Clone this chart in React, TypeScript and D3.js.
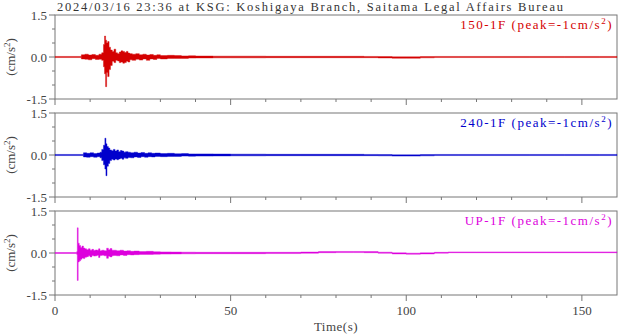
import React from "react";
import * as d3 from "d3";

const title = "2024/03/16 23:36 at KSG: Koshigaya Branch, Saitama Legal Affairs Bureau";
const xTicksMajor = [0, 50, 100, 150];
const xTicksMinor = [10, 20, 30, 40, 60, 70, 80, 90, 110, 120, 130, 140];
const yTicksMajor = [-1.5, 0, 1.5];
const yTicksMinor = [-1.0, -0.5, 0.5, 1.0];

// Panel 1: 150-1F (envelope of the trace, cm/s^2)
const redT = [0, 7.5, 8.5, 9.5, 10.5, 11.5, 12.5, 13.3, 13.8, 14.1, 14.4, 14.7, 15.0, 15.4, 15.8, 16.3, 16.8, 17.3, 17.8, 18.3, 18.8, 19.3, 19.8, 20.3, 20.8, 21.3, 22, 23, 24, 25, 26, 27, 28, 29, 30, 32, 34, 36, 38, 40, 45, 50, 60, 70, 80, 88, 92, 96, 100, 104, 108, 115, 125, 135, 145, 155, 160];
const redHi = [0.02, 0.08, 0.10, 0.07, 0.09, 0.06, 0.10, 0.15, 0.45, 0.75, 0.6, 0.5, 0.55, 0.35, 0.25, 0.2, 0.28, 0.15, 0.12, 0.18, 0.22, 0.2, 0.16, 0.2, 0.14, 0.12, 0.1, 0.12, 0.08, 0.1, 0.07, 0.09, 0.06, 0.08, 0.05, 0.06, 0.05, 0.04, 0.045, 0.035, 0.03, 0.03, 0.025, 0.025, 0.025, 0.02, 0.015, 0.005, 0.005, 0.015, 0.02, 0.02, 0.02, 0.02, 0.02, 0.02, 0.02];
const redLo = [-0.02, -0.07, -0.08, -0.10, -0.06, -0.09, -0.08, -0.12, -0.35, -0.6, -1.06, -0.55, -0.7, -0.45, -0.3, -0.15, -0.2, -0.12, -0.14, -0.2, -0.18, -0.22, -0.2, -0.15, -0.18, -0.1, -0.12, -0.08, -0.11, -0.07, -0.12, -0.07, -0.09, -0.05, -0.07, -0.05, -0.05, -0.05, -0.04, -0.035, -0.03, -0.03, -0.025, -0.025, -0.025, -0.025, -0.035, -0.045, -0.045, -0.03, -0.02, -0.02, -0.02, -0.02, -0.02, -0.02, -0.02];

// Panel 2: 240-1F
const blueT = [0, 8.1, 9, 10, 11, 12, 12.8, 13.3, 13.8, 14.2, 14.5, 14.8, 15.2, 15.6, 16.1, 16.6, 17.1, 17.6, 18.1, 18.6, 19.1, 19.6, 20.1, 20.8, 21.5, 22.5, 23.5, 24.5, 25.5, 26.5, 27.5, 28.5, 30, 32, 34, 36, 38, 40, 45, 50, 60, 70, 80, 88, 92, 96, 100, 104, 108, 115, 125, 135, 145, 155, 160];
const blueHi = [0.02, 0.08, 0.06, 0.08, 0.05, 0.07, 0.1, 0.2, 0.35, 0.6, 0.4, 0.3, 0.25, 0.18, 0.15, 0.2, 0.14, 0.18, 0.12, 0.16, 0.14, 0.1, 0.12, 0.1, 0.08, 0.1, 0.07, 0.09, 0.06, 0.08, 0.06, 0.07, 0.05, 0.06, 0.045, 0.05, 0.04, 0.04, 0.035, 0.03, 0.025, 0.025, 0.025, 0.02, 0.015, 0.005, 0.005, 0.015, 0.02, 0.02, 0.02, 0.02, 0.02, 0.02, 0.02];
const blueLo = [-0.02, -0.07, -0.08, -0.06, -0.08, -0.06, -0.1, -0.2, -0.35, -0.5, -0.74, -0.4, -0.3, -0.2, -0.15, -0.18, -0.14, -0.17, -0.14, -0.12, -0.15, -0.1, -0.12, -0.09, -0.1, -0.07, -0.09, -0.06, -0.08, -0.06, -0.07, -0.05, -0.06, -0.05, -0.05, -0.04, -0.045, -0.04, -0.035, -0.03, -0.025, -0.025, -0.025, -0.025, -0.03, -0.04, -0.04, -0.03, -0.02, -0.02, -0.02, -0.02, -0.02, -0.02, -0.02];

// Panel 3: UP-1F
const magT = [0, 6.2, 6.35, 6.6, 6.9, 7.3, 7.7, 8.1, 8.5, 9, 9.5, 10, 10.5, 11, 11.5, 12, 12.4, 12.8, 13.3, 14, 14.7, 15.2, 15.7, 16.2, 16.6, 17.5, 18.5, 19.5, 20.5, 21.5, 22.5, 24, 26, 28, 30, 33, 36, 40, 45, 50, 60, 70, 75, 80, 85, 88, 92, 96, 100, 104, 108, 112, 120, 130, 140, 150, 160];
const magHi = [0.015, 0.05, 0.9, 0.35, 0.27, 0.2, 0.25, 0.18, 0.15, 0.12, 0.15, 0.1, 0.13, 0.09, 0.11, 0.1, 0.15, 0.08, 0.1, 0.08, 0.17, 0.12, 0.16, 0.1, 0.1, 0.08, 0.1, 0.07, 0.08, 0.06, 0.07, 0.05, 0.06, 0.045, 0.04, 0.035, 0.03, 0.025, 0.025, 0.025, 0.025, 0.035, 0.05, 0.055, 0.055, 0.05, 0.03, 0.005, -0.005, 0.005, 0.025, 0.04, 0.04, 0.04, 0.04, 0.04, 0.04];
const magLo = [-0.015, -0.05, -0.98, -0.32, -0.28, -0.22, -0.18, -0.2, -0.15, -0.13, -0.1, -0.14, -0.09, -0.11, -0.1, -0.08, -0.16, -0.09, -0.08, -0.1, -0.19, -0.12, -0.14, -0.1, -0.09, -0.1, -0.07, -0.09, -0.06, -0.07, -0.06, -0.05, -0.05, -0.045, -0.04, -0.035, -0.03, -0.025, -0.025, -0.025, -0.02, -0.01, 0.01, 0.015, 0.015, 0.01, -0.01, -0.035, -0.045, -0.035, -0.005, 0.01, 0.01, 0.01, 0.01, 0.01, 0.01];

const panels = [
  { name: "150-1F", t: redT, hi: redHi, lo: redLo, color: "#d40000" },
  { name: "240-1F", t: blueT, hi: blueHi, lo: blueLo, color: "#0000cc" },
  { name: "UP-1F", t: magT, hi: magHi, lo: magLo, color: "#dd00dd" },
];

const W = 618;
const H = 334;
const left = 55;
const right = 617;
const panelTop0 = 15;
const panelH = 84;
const panelGap = 98;
const font = "'Liberation Serif', 'DejaVu Serif', serif";
const axisColor = "#777";
const textColor = "#444";

export default function App() {
  const x = d3.scaleLinear().domain([0, 160]).range([left, right]);
  return (
    <svg width={W} height={H} style={{ position: "absolute", left: 0, top: 0, background: "#fff" }} fontFamily={font}>
      <text x={57} y={10.5} fontSize={12.5} fill="#333" textLength={506} lengthAdjust="spacing">{title}</text>
      {panels.map((p, i) => {
        const top = panelTop0 + i * panelGap;
        const y = d3.scaleLinear().domain([-1.5, 1.5]).range([top + panelH, top]);
        const n = Math.min(p.t.length, p.hi.length, p.lo.length);
        const pts = d3.range(n).map((k) => ({ t: p.t[k], hi: p.hi[k], lo: p.lo[k] }));
        const area = d3
          .area<{ t: number; hi: number; lo: number }>()
          .x((d) => x(d.t))
          .y0((d) => y(d.lo))
          .y1((d) => y(d.hi))
          .curve(d3.curveStepAfter);
        return (
          <g key={p.name}>
            <rect x={left} y={top} width={right - left} height={panelH} fill="none" stroke={axisColor} strokeWidth={1} />
            <path d={area(pts) || ""} fill={p.color} stroke={p.color} strokeWidth={0.4} />
            {yTicksMajor.map((v) => (
              <g key={"ym" + v}>
                <line x1={left - 6} x2={left} y1={y(v)} y2={y(v)} stroke={axisColor} />
                <text x={left - 8} y={y(v) + 4.5} fontSize={13} fill={textColor} textAnchor="end">{v.toFixed(1)}</text>
              </g>
            ))}
            {yTicksMinor.map((v) => (
              <line key={"yn" + v} x1={left - 3} x2={left} y1={y(v)} y2={y(v)} stroke={axisColor} />
            ))}
            {xTicksMajor.map((v) => (
              <line key={"xm" + v} x1={x(v)} x2={x(v)} y1={top + panelH} y2={top + panelH + 6} stroke={axisColor} />
            ))}
            {xTicksMinor.map((v) => (
              <line key={"xn" + v} x1={x(v)} x2={x(v)} y1={top + panelH} y2={top + panelH + 3} stroke={axisColor} />
            ))}
            <text transform={`translate(15,${top + panelH / 2}) rotate(-90)`} fontSize={13} fill={textColor} textAnchor="middle">
              (cm/s<tspan fontSize={9} dy={-5}>2</tspan><tspan dy={5}>)</tspan>
            </text>
            <text x={613} y={top + 14} fontSize={13} fill={p.color} textAnchor="end" letterSpacing={1.5}>
              {p.name} (peak=-1cm/s<tspan fontSize={9} dy={-5}>2</tspan><tspan dy={5}>)</tspan>
            </text>
          </g>
        );
      })}
      {xTicksMajor.map((v) => (
        <text key={"xl" + v} x={x(v)} y={315} fontSize={13} fill={textColor} textAnchor="middle">{v}</text>
      ))}
      <text x={(left + right) / 2} y={331} fontSize={13} fill={textColor} textAnchor="middle" letterSpacing={0.5}>Time(s)</text>
    </svg>
  );
}
